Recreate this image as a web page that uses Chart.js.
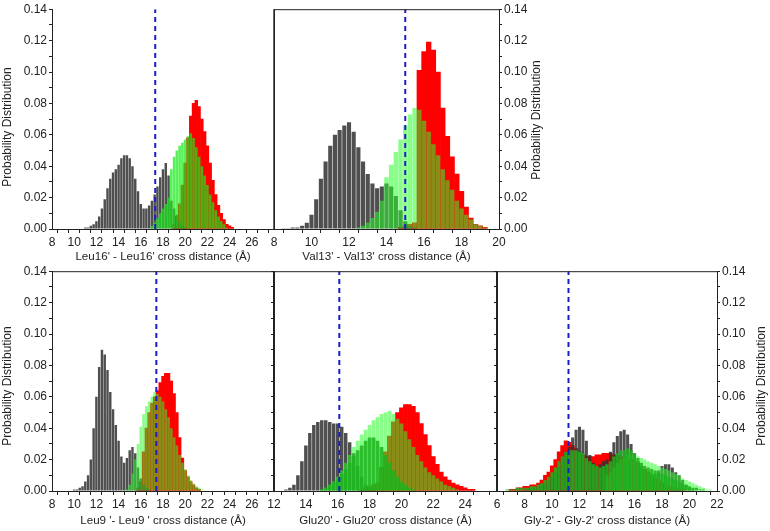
<!DOCTYPE html>
<html>
<head>
<meta charset="utf-8">
<script src="https://cdn.jsdelivr.net/npm/chart.js@4.4.0/dist/chart.umd.min.js"></script>
<style>
  html, body { margin: 0; padding: 0; background: #fff; }
  #fig { position: relative; width: 770px; height: 531px; overflow: hidden; }
  #fig canvas { position: absolute; }
</style>
</head>
<body>
<div id="fig">
  <canvas id="c0" width="282" height="264" style="left:0px;top:0px"></canvas>
  <canvas id="c1" width="283" height="264" style="left:262px;top:0px"></canvas>
  <canvas id="c2" width="282" height="269" style="left:0px;top:262px"></canvas>
  <canvas id="c3" width="243" height="269" style="left:262px;top:262px"></canvas>
  <canvas id="c4" width="285" height="269" style="left:485px;top:262px"></canvas>
</div>
<script>
// histogram bin width (Å)
const binWidth = 0.25;
const yMax = 0.14;
const yTitle = 'Probability Distribution';

const panelTitles = [
  "Leu16' - Leu16' cross distance (Å)",
  "Val13' - Val13' cross distance (Å)",
  "Leu9 '- Leu9 ' cross distance (Å)",
  "Glu20' - Glu20' cross distance (Å)",
  "Gly-2' - Gly-2' cross distance (Å)"
];
const xMins = [8, 8, 8, 12, 6];
const xMaxs = [28, 20, 28, 26, 22];
const cutoffs = [17.3, 15.0, 17.4, 16.1, 11.2];

// Leu16'
const leu16BlackFrom = 11.0;
const leu16Black = [0.001, 0.001, 0.002, 0.003, 0.005, 0.008, 0.013, 0.019, 0.026, 0.032, 0.036, 0.038, 0.041, 0.045, 0.047, 0.047, 0.045, 0.040, 0.032, 0.024, 0.016, 0.013, 0.013, 0.015, 0.018, 0.022, 0.027, 0.033, 0.038, 0.042, 0.034, 0.018, 0.013, 0.009, 0.005, 0.002, 0.001];
const leu16LightFrom = 17.0;
const leu16Light = [0.002, 0.004, 0.007, 0.010, 0.013, 0.016, 0.020, 0.038, 0.046, 0.050, 0.053, 0.055, 0.057, 0.059, 0.061, 0.058, 0.052, 0.046, 0.040, 0.034, 0.028, 0.022, 0.017, 0.012, 0.008, 0.005, 0.003, 0.001];
const leu16RedFrom = 19.0;
const leu16Red = [0.003, 0.008, 0.016, 0.028, 0.042, 0.058, 0.072, 0.080, 0.082, 0.078, 0.070, 0.062, 0.053, 0.042, 0.031, 0.022, 0.015, 0.010, 0.006, 0.003, 0.002, 0.001];

// Val13'
const val13BlackFrom = 8.5;
const val13Black = [0.0005, 0.0005, 0.001, 0.001, 0.002, 0.004, 0.009, 0.019, 0.032, 0.043, 0.053, 0.060, 0.063, 0.066, 0.068, 0.062, 0.052, 0.043, 0.035, 0.029, 0.026, 0.027, 0.029, 0.027, 0.021, 0.012, 0.005, 0.002, 0.001];
const val13LightFrom = 12.5;
const val13Light = [0.001, 0.002, 0.004, 0.007, 0.011, 0.018, 0.033, 0.041, 0.049, 0.057, 0.066, 0.073, 0.077, 0.076, 0.069, 0.062, 0.054, 0.047, 0.038, 0.031, 0.025, 0.018, 0.013, 0.009, 0.006, 0.003, 0.002, 0.001];
const val13RedFrom = 14.75;
const val13Red = [0.001, 0.002, 0.003, 0.004, 0.101, 0.113, 0.119, 0.114, 0.100, 0.077, 0.059, 0.046, 0.035, 0.024, 0.014, 0.007, 0.003, 0.002, 0.001];

// Leu9'
const leu9BlackFrom = 10.0;
const leu9Black = [0.001, 0.001, 0.002, 0.003, 0.006, 0.010, 0.020, 0.040, 0.060, 0.079, 0.090, 0.087, 0.077, 0.063, 0.052, 0.042, 0.032, 0.022, 0.018, 0.021, 0.026, 0.028, 0.024, 0.015, 0.008, 0.004, 0.002, 0.001];
const leu9LightFrom = 14.75;
const leu9Light = [0.001, 0.004, 0.011, 0.020, 0.030, 0.041, 0.049, 0.054, 0.057, 0.060, 0.063, 0.062, 0.060, 0.057, 0.052, 0.047, 0.040, 0.034, 0.029, 0.023, 0.018, 0.014, 0.010, 0.007, 0.005, 0.003, 0.002, 0.001];
const leu9RedFrom = 15.75;
const leu9Red = [0.002, 0.006, 0.025, 0.040, 0.050, 0.056, 0.060, 0.064, 0.069, 0.073, 0.075, 0.075, 0.070, 0.062, 0.050, 0.034, 0.021, 0.013, 0.009, 0.006, 0.004, 0.002, 0.001];

// Glu20'
const glu20BlackFrom = 12.75;
const glu20Black = [0.001, 0.002, 0.004, 0.010, 0.019, 0.029, 0.037, 0.042, 0.044, 0.045, 0.045, 0.044, 0.043, 0.043, 0.041, 0.037, 0.031, 0.024, 0.016, 0.009, 0.004, 0.002, 0.001];
const glu20GreenFrom = 15.0;
const glu20Green = [0.001, 0.002, 0.004, 0.006, 0.008, 0.011, 0.014, 0.018, 0.022, 0.026, 0.029, 0.032, 0.034, 0.034, 0.032, 0.028, 0.023, 0.018, 0.013, 0.009, 0.006, 0.004, 0.002, 0.001];
const glu20LightFrom = 15.0;
const glu20Light = [0.001, 0.002, 0.004, 0.006, 0.009, 0.013, 0.018, 0.023, 0.028, 0.032, 0.036, 0.039, 0.042, 0.045, 0.047, 0.049, 0.050, 0.051, 0.049, 0.046, 0.043, 0.038, 0.033, 0.028, 0.023, 0.019, 0.015, 0.012, 0.010, 0.008, 0.006, 0.004, 0.003, 0.002, 0.001];
const glu20RedFrom = 17.5;
const glu20Red = [0.001, 0.002, 0.003, 0.004, 0.005, 0.015, 0.025, 0.035, 0.044, 0.050, 0.053, 0.055, 0.055, 0.054, 0.050, 0.043, 0.036, 0.029, 0.022, 0.017, 0.012, 0.009, 0.007, 0.005, 0.004, 0.003, 0.002, 0.001, 0.001];

// Gly-2'
const gly2RedFrom = 7.0;
const gly2Red = [0.001, 0.001, 0.002, 0.002, 0.003, 0.003, 0.004, 0.004, 0.005, 0.007, 0.010, 0.012, 0.016, 0.020, 0.025, 0.029, 0.032, 0.031, 0.029, 0.027, 0.025, 0.023, 0.022, 0.022, 0.022, 0.023, 0.023, 0.024, 0.024, 0.024, 0.023, 0.023, 0.022, 0.022, 0.021, 0.020, 0.019, 0.018, 0.016, 0.014, 0.012, 0.010, 0.008, 0.007, 0.005, 0.004, 0.003, 0.002, 0.002, 0.001, 0.001];
const gly2BlackFrom = 8.0;
const gly2Black = [0.001, 0.001, 0.002, 0.002, 0.003, 0.004, 0.005, 0.007, 0.009, 0.012, 0.016, 0.021, 0.025, 0.028, 0.034, 0.039, 0.041, 0.039, 0.032, 0.023, 0.018, 0.016, 0.017, 0.019, 0.020, 0.025, 0.031, 0.035, 0.038, 0.039, 0.036, 0.030, 0.024, 0.019, 0.016, 0.014, 0.012, 0.011, 0.011, 0.013, 0.016, 0.017, 0.017, 0.015, 0.012, 0.010, 0.007, 0.004, 0.002, 0.001];
const gly2GreenFrom = 6.75;
const gly2Green = [0.001, 0.001, 0.001, 0.002, 0.002, 0.002, 0.002, 0.003, 0.003, 0.004, 0.005, 0.007, 0.009, 0.012, 0.015, 0.019, 0.022, 0.025, 0.026, 0.026, 0.026, 0.025, 0.024, 0.021, 0.019, 0.017, 0.016, 0.015, 0.016, 0.017, 0.019, 0.022, 0.024, 0.026, 0.026, 0.027, 0.026, 0.024, 0.021, 0.018, 0.016, 0.015, 0.014, 0.013, 0.012, 0.011, 0.010, 0.009, 0.008, 0.007, 0.006, 0.005, 0.004, 0.003, 0.002, 0.002, 0.001, 0.001];
const gly2LightFrom = 14.0;
const gly2Light = [0.010, 0.012, 0.015, 0.018, 0.020, 0.022, 0.023, 0.023, 0.023, 0.022, 0.021, 0.020, 0.019, 0.018, 0.017, 0.016, 0.015, 0.014, 0.013, 0.012, 0.011, 0.010, 0.008, 0.007, 0.006, 0.005, 0.004, 0.003, 0.002, 0.001, 0.001];

const colBlack = 'rgba(48,48,48,0.85)';
const colRed = 'rgb(255,0,0)';
const colLight = 'rgba(40,255,40,0.55)';
const colBright = 'rgba(25,235,25,0.72)';
const colGreen = 'rgba(30,180,30,0.85)';
const colCut = '#1c1cc8';
const axisColor = '#222';
const textColor = '#222';

Chart.defaults.font.family = '"Liberation Sans", Arial, sans-serif';
Chart.defaults.font.size = 12;

function bars(from, values, color, order, bp) {
  return {
    type: 'bar',
    data: values.map((v, i) => ({ x: from + i * binWidth, y: v })),
    backgroundColor: color,
    borderWidth: 0,
    grouped: false,
    barPercentage: bp,
    categoryPercentage: 1,
    order: order
  };
}

function yAxis(position, width, labels) {
  return {
    type: 'linear',
    position: position,
    min: 0,
    max: yMax,
    grid: { drawOnChartArea: false, tickLength: 3, color: axisColor },
    border: { color: axisColor },
    ticks: {
      stepSize: 0.01, autoSkip: false, padding: 2, color: textColor,
      callback: v => (labels && Math.round(v * 100) % 2 === 0) ? v.toFixed(2) : ''
    },
    afterFit: s => { s.width = width; }
  };
}

// borders that are not axes, and the rotated y titles
const framePlugin = {
  id: 'frame',
  afterDatasetsDraw(chart, args, opts) {
    const ctx = chart.ctx;
    const a = chart.chartArea;
    ctx.save();
    ctx.strokeStyle = opts.color || axisColor;
    ctx.lineWidth = 1;
    ctx.beginPath();
    if (opts.top) { ctx.moveTo(a.left, a.top + 0.5); ctx.lineTo(a.right, a.top + 0.5); }
    if (opts.left) { ctx.moveTo(a.left + 0.5, a.top); ctx.lineTo(a.left + 0.5, a.bottom); }
    if (opts.right) { ctx.moveTo(a.right - 0.5, a.top); ctx.lineTo(a.right - 0.5, a.bottom); }
    ctx.stroke();
    if (opts.title) {
      ctx.translate(opts.title.x, opts.title.y);
      ctx.rotate(-Math.PI / 2);
      ctx.fillStyle = textColor;
      ctx.font = '12px "Liberation Sans", Arial, sans-serif';
      ctx.textAlign = 'center';
      ctx.textBaseline = 'middle';
      ctx.fillText(yTitle, 0, 0);
    }
    ctx.restore();
  }
};

function panel(i, sets, o) {
  const datasets = sets.slice();
  datasets.push({
    type: 'line',
    data: [{ x: cutoffs[i], y: 0 }, { x: cutoffs[i], y: yMax }],
    borderColor: colCut,
    borderWidth: 2,
    borderDash: [5, 4],
    pointRadius: 0,
    order: 0
  });
  const scales = Object.assign({
    x: {
      type: 'linear',
      min: xMins[i],
      max: xMaxs[i],
      offset: false,
      grid: { drawOnChartArea: false, tickLength: 4, color: axisColor },
      border: { color: axisColor },
      ticks: {
        stepSize: 1, autoSkip: false, maxRotation: 0, padding: 2, color: textColor,
        callback: v => (v % 2 === 0 && v !== o.hideX) ? String(v) : ''
      },
      title: {
        display: true, text: panelTitles[i], color: textColor,
        font: { size: 11.6 }, padding: { top: 0, bottom: o.titlePad }
      },
      afterFit: s => { s.height = o.xHeight; }
    }
  }, o.yScales);
  return new Chart(document.getElementById('c' + i), {
    type: 'bar',
    data: { datasets: datasets },
    options: {
      responsive: false,
      devicePixelRatio: 1,
      animation: false,
      layout: { padding: o.padding },
      scales: scales,
      plugins: {
        legend: { display: false },
        tooltip: { enabled: false },
        frame: o.frame
      }
    },
    plugins: [framePlugin]
  });
}

// Leu16' (top left)
panel(0, [
  bars(leu16RedFrom, leu16Red, colRed, 4, 1),
  bars(leu16BlackFrom, leu16Black, colBlack, 3, 0.88),
  bars(leu16LightFrom, leu16Light, colBright, 2, 0.95)
], {
  hideX: 28, titlePad: 0, xHeight: 35,
  padding: { top: 6, right: 8, left: 0, bottom: 0 },
  yScales: { y: yAxis('left', 52, true) },
  frame: { right: true, color: '#666', title: { x: 7.5, y: 127 } }
});

// Val13' (top right)
panel(1, [
  bars(val13RedFrom, val13Red, colRed, 4, 1),
  bars(val13BlackFrom, val13Black, colBlack, 3, 0.88),
  bars(val13LightFrom, val13Light, colLight, 2, 0.95)
], {
  hideX: null, titlePad: 0, xHeight: 35,
  padding: { top: 6, right: 0, left: 12, bottom: 0 },
  yScales: { y: yAxis('right', 46, true) },
  frame: { top: true, left: true, title: { x: 275, y: 120 } }
});

// Leu9' (bottom left)
panel(2, [
  bars(leu9RedFrom, leu9Red, colRed, 4, 1),
  bars(leu9BlackFrom, leu9Black, colBlack, 3, 0.88),
  bars(leu9LightFrom, leu9Light, colLight, 2, 0.95)
], {
  hideX: 28, titlePad: 3, xHeight: 40,
  padding: { top: 7, right: 8, left: 0, bottom: 0 },
  yScales: { y: yAxis('left', 52, true) },
  frame: { top: true, right: true, title: { x: 7.5, y: 124 } }
});

// Glu20' (bottom middle)
panel(3, [
  bars(glu20RedFrom, glu20Red, colRed, 5, 1),
  bars(glu20BlackFrom, glu20Black, colBlack, 4, 0.88),
  bars(glu20LightFrom, glu20Light, colLight, 3, 0.95),
  bars(glu20GreenFrom, glu20Green, colGreen, 2, 0.95)
], {
  hideX: 26, titlePad: 3, xHeight: 40,
  padding: { top: 7, right: 8, left: 0, bottom: 0 },
  yScales: { y: yAxis('left', 12, false) },
  frame: { top: true, right: true }
});

// Gly-2' (bottom right)
panel(4, [
  bars(gly2RedFrom, gly2Red, colRed, 5, 1),
  bars(gly2BlackFrom, gly2Black, colBlack, 4, 0.88),
  bars(gly2LightFrom, gly2Light, colLight, 3, 0.95),
  bars(gly2GreenFrom, gly2Green, colGreen, 2, 0.95)
], {
  hideX: null, titlePad: 3, xHeight: 40,
  padding: { top: 7, right: 0, left: 0, bottom: 0 },
  yScales: { y: yAxis('left', 12, false), y2: yAxis('right', 53, true) },
  frame: { top: true, title: { x: 277, y: 124 } }
});
</script>
</body>
</html>
